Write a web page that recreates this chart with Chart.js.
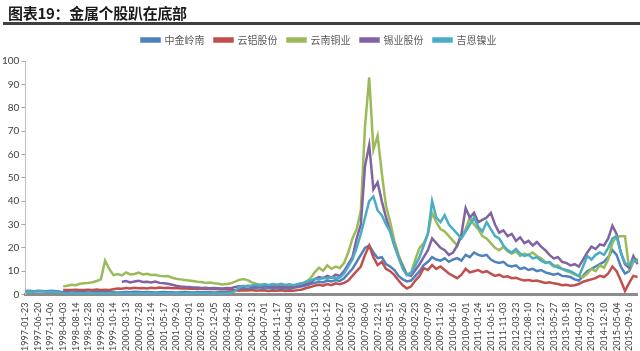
<!DOCTYPE html>
<html>
<head>
<meta charset="utf-8">
<script src="https://cdn.jsdelivr.net/npm/chart.js@4/dist/chart.umd.min.js"></script>
<style>
  body { margin: 0; background: #fff; }
  #wrap { position: relative; width: 640px; height: 351px; }
  #title { position: absolute; left: 8px; top: 2px; font: bold 15px "Noto Sans CJK SC", sans-serif; color: #1a1a1a; letter-spacing: -0.3px; }
  #rule { position: absolute; left: 3px; right: 0; top: 22px; height: 3px; background: #3f3f3f; }
  canvas { position: absolute; left: 0; top: 0; }
</style>
</head>
<body>
<div id="wrap">
  <canvas id="metal-chart" width="640" height="351"></canvas>
  <div id="title">图表19：金属个股趴在底部</div>
  <div id="rule"></div>
</div>
<script>
// tick labels on the x axis (one every 3 data points)
var tickLabels = ["1997-01-23","1997-06-20","1997-11-06","1998-04-03","1998-08-14","1998-12-28","1999-05-28","1999-10-14",
  "2000-03-13","2000-07-28","2000-12-14","2001-05-17","2001-09-26","2002-03-01","2002-07-18","2002-12-05",
  "2003-04-28","2003-09-16","2004-02-13","2004-07-01","2004-11-17","2005-04-08","2005-08-25","2006-01-13",
  "2006-06-12","2006-10-27","2007-03-20","2007-08-06","2007-12-21","2008-05-15","2008-09-26","2009-02-23",
  "2009-07-09","2009-11-26","2010-04-16","2010-09-01","2011-01-24","2011-06-15","2011-11-03","2012-03-23",
  "2012-08-10","2012-12-27","2013-05-27","2013-10-18","2014-03-07","2014-07-23","2014-12-10","2015-05-04",
  "2015-09-16"]
var seriesNames = ["中金岭南", "云铝股份", "云南铜业", "锡业股份", "吉恩镍业"]
var seriesColors = ["#4F81BD", "#C0504D", "#9BBB59", "#8064A2", "#4BACC6"]

var zhongjin = [1.5,1.6,1.4,1.6,1.5,1.4,1.6,1.5,1.3,1.0,
  1.1,0.9,1.0,1.1,1.0,0.9,1.0,1.1,1.2,1.0,
  1.1,1.0,0.9,1.0,1.1,1.0,1.2,1.1,1.0,1.1,
  1.0,0.9,1.0,1.1,1.0,1.0,0.9,1.0,1.1,1.0,
  0.9,1.0,1.0,1.1,1.0,0.9,1.0,1.1,1.0,1.2,
  1.8,2.2,2.6,2.4,2.9,2.7,3.1,2.6,2.9,2.5,
  2.8,2.4,2.7,2.5,2.9,3.2,3.5,4.0,4.5,5.0,
  5.5,5.2,6.0,5.6,6.2,5.8,7.0,9.0,11,14,
  17,20,21,18,15.6,16,13,12,10.5,8,
  6.5,5.6,6,8,10,12.6,14,16,15,14.5,
  15.5,14,15,15.6,14.5,17,16,18,17,16.5,
  17,15,14,13.5,14,12.5,12,12.5,11,11.5,
  10.5,11,10,10.5,9.5,9,8.5,9,8,7.8,
  7.5,6.5,6,8,10,11,12,13,14,16,
  19,17,12,9,10,14,15]

var yunlv = [null,null,null,null,null,null,null,null,null,1.9,
  2.0,1.9,2.1,2.0,1.9,2.1,2.0,2.2,2.0,2.1,
  2.0,2.3,2.6,2.5,2.8,2.6,2.9,2.7,2.8,2.6,
  2.9,2.7,3.0,2.8,2.9,2.7,2.8,2.6,2.7,2.5,
  2.6,2.4,2.5,2.6,2.4,2.5,2.3,2.4,2.2,2.3,
  1.8,1.6,1.8,1.7,1.9,1.6,1.8,1.7,1.5,1.7,
  1.6,1.8,1.5,1.7,1.6,1.9,2.2,2.8,3.2,3.8,
  4.2,3.8,4.5,4.0,4.8,4.4,5.0,6.0,8.0,10,
  12,17,21,16,12.6,14,11,10,8.3,6,
  4,2.6,3.5,6,8,11.3,10.5,12.6,11,12,
  10.5,9,8,7,8.5,11,9.5,10,10.5,9.5,
  10,9,8,8.5,7.5,7.8,7,7.2,6.5,6,
  6.2,5.8,6,5.5,5,5.3,4.8,4.5,4,4.2,
  3.8,4,4.5,5.5,6,6.5,7,8,7.5,9,
  12,10,6,1.5,5,8,7.5]

var yunnanCopper = [null,null,null,null,null,null,null,null,null,3.5,
  3.8,4.2,4.0,4.6,4.8,5.0,5.3,5.8,6.5,14.5,
  11,8.3,8.8,8.2,9.5,8.6,8.8,9.4,8.6,8.9,
  8.4,8.5,8.0,7.8,7.9,7.2,6.8,6.5,6.2,6.0,
  5.8,5.5,5.4,5.0,5.2,4.8,4.6,4.3,4.5,4.8,
  5.5,6.3,6.6,6.2,5.2,4.6,4.2,4.5,4.0,4.3,
  3.8,4.0,3.6,3.9,3.8,4.4,4.6,5.5,7.0,9.5,
  11.5,10.2,12.5,11,12,11.4,13.5,18,24,28,
  36,72,93,62,68,52,38,31,23,17,
  12.5,8.5,9.5,15,20,22,26,35,31,28,
  27,25,23,21,25,28,33,30,28,25,
  24,22,20,19,20.5,18.5,17.5,18.5,16.5,17.5,
  17,18,16.5,15.5,14,13.5,12,12.5,11,10,
  9.5,8.5,8,7.5,9,11,10,12.5,11.5,15,
  22,25,25,25,11,14,15.5]

var xiye = [null,null,null,null,null,null,null,null,null,null,
  null,null,null,null,null,null,null,null,null,null,
  null,null,null,5.5,5.8,5.2,5.6,5.9,5.4,5.5,
  5.2,5.6,5.0,4.8,4.6,4.2,3.8,3.5,3.3,3.2,
  3.0,3.0,2.8,2.9,2.7,2.8,2.7,2.6,2.8,2.7,
  3.2,3.6,3.4,3.8,3.5,3.7,3.4,3.9,3.6,3.3,
  3.5,3.2,3.4,3.0,3.3,3.6,3.8,4.5,5.0,6.5,
  7.5,7.0,8.0,7.2,8.5,8.0,10,13,16,24,
  30,55,64,45,48,40,33,27,21,16,
  12,8.5,8,10.5,13,16,19,24,22,20,
  19,17,18,21,26,37,33,35,31,32,
  33,35,30,26.5,27.5,25,26,23,24.5,22,
  23,21,22.5,20.5,19,17,15.5,16,14,13.5,
  12.5,13,12,15,18,20.5,19.5,21.5,21,24,
  29.5,26,18,13,11.5,16.5,13]

var jien = [1.2,1.3,1.2,1.4,1.3,1.2,1.3,1.2,1.1,0.6,
  0.5,0.6,0.5,0.6,0.5,0.6,0.5,0.5,0.6,0.5,
  0.6,0.5,0.6,0.5,0.5,0.6,0.5,0.6,0.5,0.6,
  0.5,0.6,0.5,0.5,0.6,0.5,0.6,0.5,0.5,0.6,
  0.5,0.6,0.5,0.6,0.5,0.5,0.6,0.5,0.6,0.8,
  1.5,3.2,3.8,3.5,3.9,4.2,3.8,4.4,4.0,4.5,
  4.2,4.6,4.1,4.4,4.0,4.5,4.8,5.5,6.0,6.8,
  6.5,7.2,6.8,7.5,7.0,7.3,9,12,15,20,
  26,33,40,42,36,34,30,27,21,16,
  11,8.3,9,12.6,16,21,26,40,33,31,
  34,30,28,26,24,27,30,33,29,27,
  31,28,25,24,21,19,18,19.5,17.5,16.5,
  17,15.5,16,14.5,13.5,14,12.5,11.5,11,10.5,
  10,9,7.8,12,16.5,15,17,18,17,20,
  24,25,18,13.5,12.5,15,14]

var pointsPerTick = 3
var categories = zhongjin.map(function (v, i) {
  return i % pointsPerTick === 0 && tickLabels[i / pointsPerTick] ? tickLabels[i / pointsPerTick] : ""
})

var allSeries = [zhongjin, yunlv, yunnanCopper, xiye, jien]

// extra room under the legend, so the plot starts where the reference starts
var legendGap = {
  id: "legendGap",
  beforeInit: function (chart) {
    var fit = chart.legend.fit
    chart.legend.fit = function () {
      fit.call(this)
      this.height += 6
    }
  }
}

function createChart() {
  var datasets = allSeries.map(function (values, i) {
    return {
      label: seriesNames[i],
      data: values,
      borderColor: seriesColors[i],
      backgroundColor: seriesColors[i],
      borderWidth: 2.5,
      pointRadius: 0,
      tension: 0,
      order: allSeries.length - 1 - i
    }
  })

  new Chart("metal-chart", {
    type: "line",
    data: { labels: categories, datasets: datasets },
    plugins: [legendGap],
    options: {
      responsive: false,
      animation: false,
      events: [],
      layout: { padding: { top: 25, left: 0, right: 2, bottom: 0 } },
      plugins: {
        tooltip: { enabled: false },
        legend: {
          position: "top",
          labels: {
            boxWidth: 18,
            boxHeight: 3,
            padding: 10,
            color: "#595959",
            font: { family: "Noto Sans CJK SC", size: 10 },
            sort: function (a, b) { return a.datasetIndex - b.datasetIndex }
          }
        }
      },
      scales: {
        x: {
          grid: { display: false },
          border: { color: "#8c8c8c", width: 3 },
          ticks: {
            autoSkip: false,
            minRotation: 90,
            maxRotation: 90,
            padding: 0,
            color: "#404040",
            font: { family: "Lato", size: 9 },
            callback: function (val, idx) { return categories[idx] === "" ? null : categories[idx] }
          }
        },
        y: {
          min: 0,
          max: 100,
          grid: { drawOnChartArea: false, tickLength: 4, color: "#a6a6a6" },
          border: { color: "#bfbfbf" },
          ticks: {
            stepSize: 10,
            padding: 2,
            color: "#404040",
            font: { family: "Lato", size: 10 }
          }
        }
      }
    }
  })
}

createChart()
</script>
</body>
</html>
